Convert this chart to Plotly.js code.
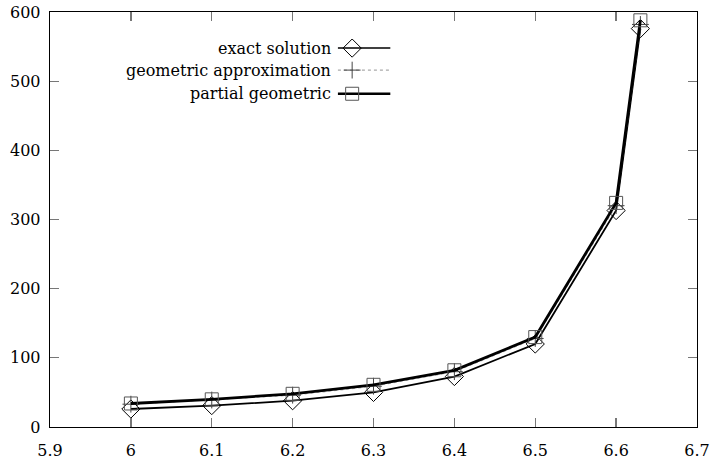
<!DOCTYPE html>
<html><head><meta charset="utf-8">
<script src="https://cdn.plot.ly/plotly-3.0.1.min.js"></script>
<style>html,body{margin:0;padding:0;background:#fff}#c{width:711px;height:465px}</style>
</head><body><div id="c"></div>
<script>
const xVals = [6.0, 6.1, 6.2, 6.3, 6.4, 6.5, 6.6, 6.63];
const exactSolution = [26, 31, 38, 50, 73, 120, 313, 576];
const geometricApprox = [33, 39, 46, 59, 80, 128, 320, 582];
const partialGeometric = [34, 40, 48, 61, 82, 130, 324, 588];
const seriesNames = ["exact solution", "geometric approximation", "partial geometric"];

const font = {family: "DejaVu Serif", size: 16, color: "#000"};

const traces = [
  {x: xVals, y: exactSolution, mode: "lines+markers", name: seriesNames[0],
   line: {color: "#000", width: 1.8},
   marker: {symbol: "diamond-open", size: 14, color: "#000", line: {width: 1}}},
  {x: xVals, y: geometricApprox, mode: "lines+markers", name: seriesNames[1],
   line: {color: "#aaa", width: 1.2, dash: "dot"},
   marker: {symbol: "cross-thin-open", size: 12, color: "#444", line: {width: 1, color: "#444"}}},
  {x: xVals, y: partialGeometric, mode: "lines+markers", name: seriesNames[2],
   line: {color: "#000", width: 2.8},
   marker: {symbol: "square-open", size: 13, color: "#555", line: {width: 1, color: "#555"}}}
];

const legRows = [0.913, 0.860, 0.803];
const legStyles = [
  {line: {color: "#000", width: 1.5}, marker: traces[0].marker},
  {line: {color: "#aaa", width: 1.2, dash: "dot"}, marker: traces[1].marker},
  {line: {color: "#000", width: 2.6}, marker: traces[2].marker}
];
const annotations = [];
legRows.forEach((yy, i) => {
  traces.push({x: [0.445, 0.526], y: [yy, yy], mode: "lines", xaxis: "x2", yaxis: "y2",
    line: legStyles[i].line, showlegend: false, hoverinfo: "skip"});
  traces.push({x: [0.467], y: [yy], mode: "markers", xaxis: "x2", yaxis: "y2",
    marker: legStyles[i].marker, showlegend: false, hoverinfo: "skip"});
  annotations.push({xref: "paper", yref: "paper", x: 0.437, y: yy, xanchor: "right", yanchor: "middle",
    text: seriesNames[i], showarrow: false, font: font});
});

const layout = {
  width: 711, height: 465,
  margin: {l: 50, r: 14, t: 12, b: 38},
  paper_bgcolor: "#fff", plot_bgcolor: "#fff",
  showlegend: false,
  font: font,
  xaxis: {range: [5.9, 6.7], dtick: 0.1, tick0: 5.9, showgrid: false, zeroline: false,
    showline: true, linecolor: "#000", linewidth: 1.3, mirror: "allticks",
    ticks: "inside", ticklen: 9, tickcolor: "#777", tickwidth: 1.3, tickfont: font,
    ticklabelstandoff: 8},
  yaxis: {range: [0, 600], dtick: 100, showgrid: false, zeroline: false,
    showline: true, linecolor: "#000", linewidth: 1.3, mirror: "allticks",
    ticks: "inside", ticklen: 9, tickcolor: "#777", tickwidth: 1.3, tickfont: font,
    ticklabelstandoff: 5},
  xaxis2: {overlaying: "x", range: [0, 1], visible: false, fixedrange: true},
  yaxis2: {overlaying: "y", range: [0, 1], visible: false, fixedrange: true},
  annotations: annotations
};

Plotly.newPlot("c", traces, layout, {displayModeBar: false, staticPlot: true});
</script></body></html>
